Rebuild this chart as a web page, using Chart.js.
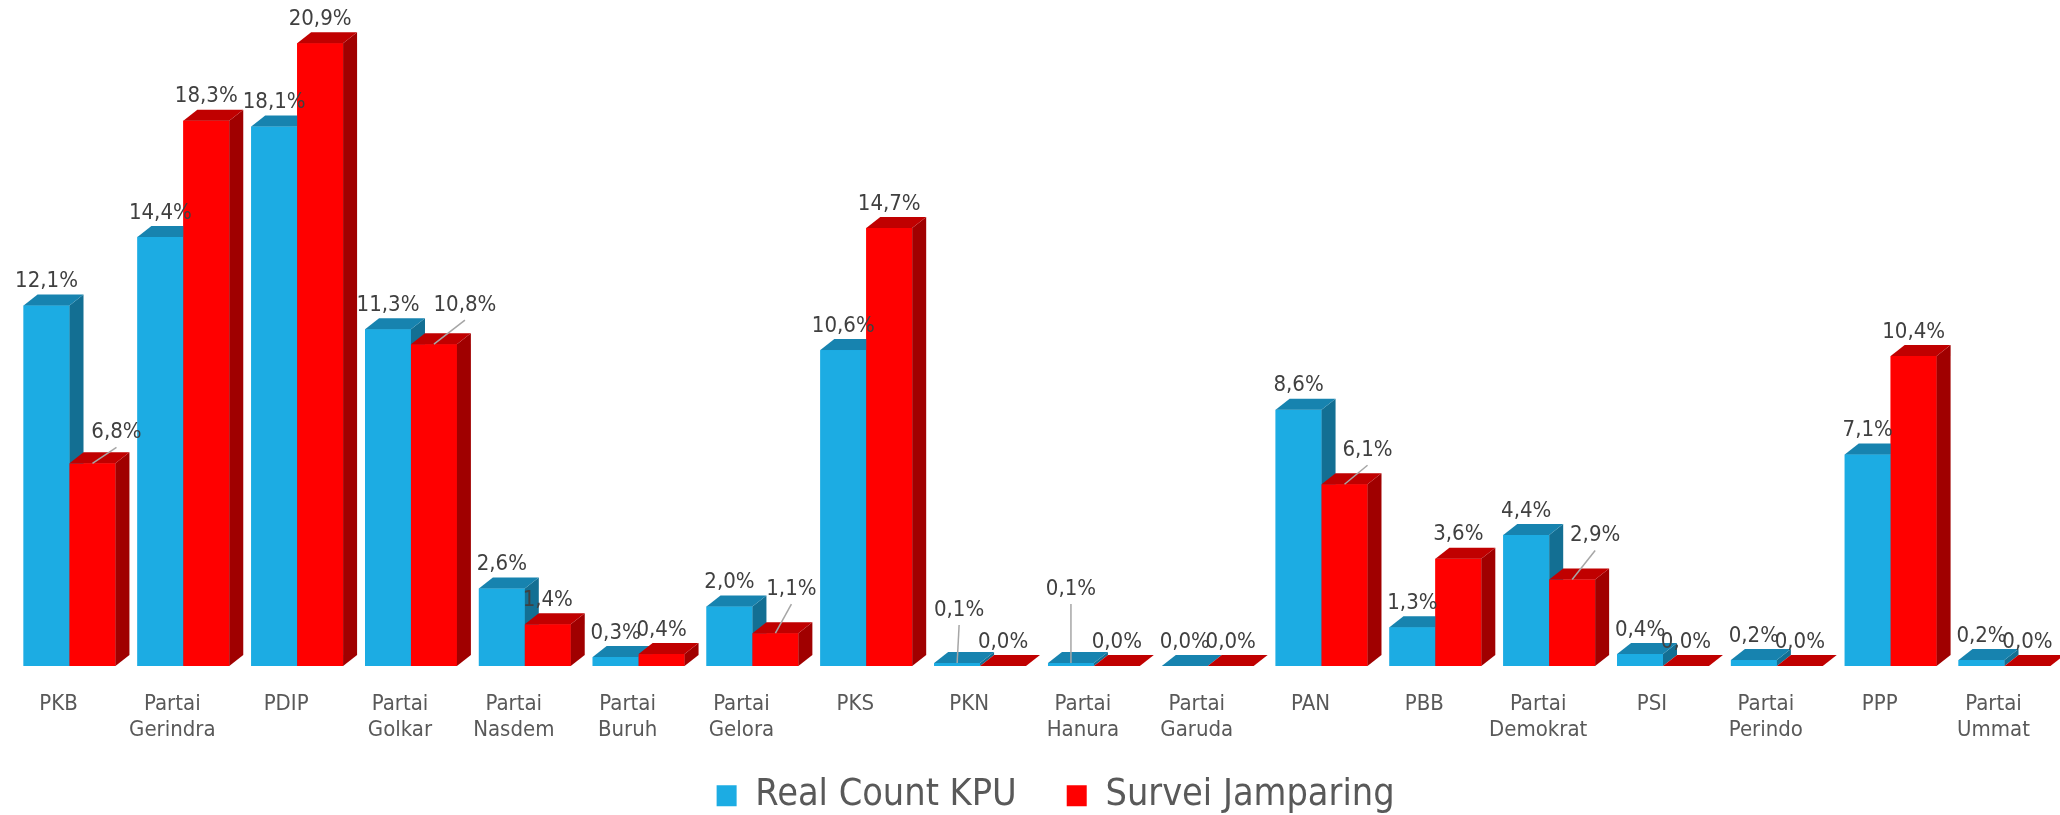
<!DOCTYPE html>
<html>
<head>
<meta charset="utf-8">
<script src="https://cdn.jsdelivr.net/npm/chart.js@4.4.0/dist/chart.umd.min.js"></script>
<style>
    html, body { margin: 0; padding: 0; background: #fff; overflow: hidden; }
</style>
</head>
<body>
<canvas id="partyChart" width="2066" height="815"></canvas>
<script>
const partai = [
    ["PKB"], ["Partai", "Gerindra"], ["PDIP"], ["Partai", "Golkar"], ["Partai", "Nasdem"],
    ["Partai", "Buruh"], ["Partai", "Gelora"], ["PKS"], ["PKN"], ["Partai", "Hanura"],
    ["Partai", "Garuda"], ["PAN"], ["PBB"], ["Partai", "Demokrat"], ["PSI"],
    ["Partai", "Perindo"], ["PPP"], ["Partai", "Ummat"],
];
const realCountKPU = [12.1, 14.4, 18.1, 11.3, 2.6, 0.3, 2.0, 10.6, 0.1, 0.1, 0.0, 8.6, 1.3, 4.4, 0.4, 0.2, 7.1, 0.2];
const surveiJamparing = [6.8, 18.3, 20.9, 10.8, 1.4, 0.4, 1.1, 14.7, 0.0, 0.0, 0.0, 6.1, 3.6, 2.9, 0.0, 0.0, 10.4, 0.0];

// labels that got pushed off the bar top (drawn with a leader line), index -> [dx, dy]
const kpuLabelNudge = { 8: [2, -29], 9: [0, -50] };
const surveiLabelNudge = { 0: [24, -7], 3: [31, -15], 6: [16, -20], 11: [23, -10], 13: [23, -20] };

const FONT = "'DejaVu Sans Condensed', 'Liberation Sans Narrow', sans-serif";
const depth = { dx: 14, dy: 11 };
const faces = [
    { front: "#1CACE3", top: "#1783AF", side: "#136F93" },
    { front: "#FF0000", top: "#C00000", side: "#A00000" },
];

const fmt = (v) => v.toFixed(1).replace(".", ",") + "%";

const bar3d = {
    id: "bar3d",
    afterLayout(chart) {
        // legend sits a bit higher and more to the right than chart.js puts it
        chart.legend.left += 17;
        chart.legend.right += 17;
        chart.legend.top -= 17;
    },
    afterDatasetsDraw(chart) {
        const ctx = chart.ctx;
        ctx.save();
        // blue first, red after so the red front hides the blue side face
        [0, 1].forEach((di) => {
            const c = faces[di];
            chart.getDatasetMeta(di).data.forEach((bar) => {
                const { x, y, base, width } = bar.getProps(["x", "y", "base", "width"], true);
                const l = x - width / 2;
                const r = x + width / 2;
                ctx.fillStyle = c.front;
                ctx.fillRect(l, y, width, base - y);
                ctx.fillStyle = c.side;
                ctx.beginPath();
                ctx.moveTo(r, y);
                ctx.lineTo(r + depth.dx, y - depth.dy);
                ctx.lineTo(r + depth.dx, base - depth.dy);
                ctx.lineTo(r, base);
                ctx.closePath();
                ctx.fill();
                ctx.fillStyle = c.top;
                ctx.beginPath();
                ctx.moveTo(l, y);
                ctx.lineTo(l + depth.dx, y - depth.dy);
                ctx.lineTo(r + depth.dx, y - depth.dy);
                ctx.lineTo(r, y);
                ctx.closePath();
                ctx.fill();
            });
        });

        ctx.font = "22px " + FONT;
        ctx.textAlign = "center";
        ctx.textBaseline = "middle";
        [kpuLabelNudge, surveiLabelNudge].forEach((nudge, di) => {
            const values = chart.data.datasets[di].data;
            chart.getDatasetMeta(di).data.forEach((bar, i) => {
                const [ox, oy] = nudge[i] || [0, 0];
                const lx = bar.x + ox;
                const ly = bar.y - 24 + oy;
                if (nudge[i]) {
                    ctx.strokeStyle = "#A6A6A6";
                    ctx.lineWidth = 1.5;
                    ctx.beginPath();
                    ctx.moveTo(bar.x, bar.y);
                    ctx.lineTo(lx, ly + 15);
                    ctx.stroke();
                }
                ctx.fillStyle = "#404040";
                ctx.fillText(fmt(values[i]), lx, ly);
            });
        });
        ctx.restore();
    },
};

new Chart(document.getElementById("partyChart"), {
    type: "bar",
    data: {
        labels: partai,
        datasets: [
            {
                label: "Real Count KPU",
                data: realCountKPU,
                backgroundColor: faces[0].front,
                categoryPercentage: 0.807,
                barPercentage: 1,
            },
            {
                label: "Survei Jamparing",
                data: surveiJamparing,
                backgroundColor: faces[1].front,
                categoryPercentage: 0.807,
                barPercentage: 1,
            },
        ],
    },
    options: {
        responsive: false,
        animation: false,
        layout: { padding: { left: 12.6, right: 1.4, top: 10.4, bottom: 0 } },
        scales: {
            x: {
                grid: { display: false, drawTicks: false },
                border: { display: false },
                ticks: {
                    padding: 25,
                    labelOffset: -11,
                    autoSkip: false,
                    maxRotation: 0,
                    color: "#595959",
                    font: { family: FONT, size: 22, lineHeight: 1.2 },
                },
                afterFit: (scale) => {
                    scale.height = 78;
                },
            },
            y: { display: false, min: 0, max: 22 },
        },
        plugins: {
            legend: {
                position: "bottom",
                maxHeight: 71,
                labels: {
                    boxWidth: 20,
                    boxHeight: 21,
                    padding: 50,
                    color: "#595959",
                    font: { family: FONT, size: 37.5 },
                },
            },
            tooltip: { enabled: false },
        },
    },
    plugins: [bar3d],
});
</script>
</body>
</html>
